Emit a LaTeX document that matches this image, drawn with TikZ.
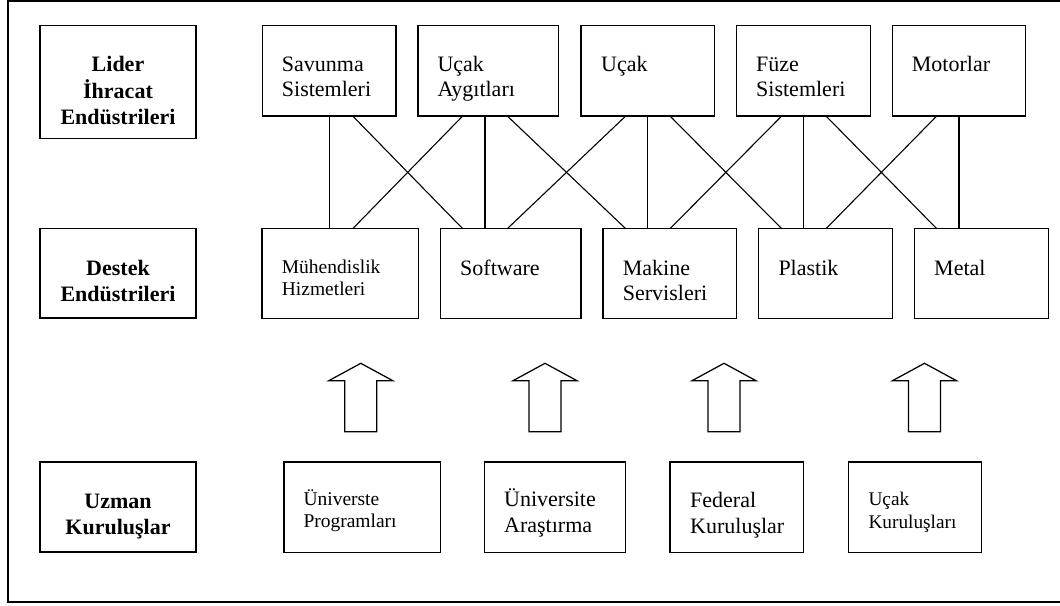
\documentclass[tikz,border=0pt]{standalone}
\usepackage{fontspec}
\setmainfont{Liberation Serif}
\newcommand{\lns}[1]{\begin{tabular}[t]{@{}l@{}}#1\end{tabular}}
\newcommand{\clns}[1]{\begin{tabular}[t]{@{}c@{}}#1\end{tabular}}
\tikzset{
  bx/.style={draw, line width=1.25pt, inner sep=0pt, outer sep=0pt},
  big/.style={anchor=base west, inner sep=0pt, font=\fontsize{22}{25}\selectfont},
  bigB/.style={anchor=base west, inner sep=0pt, font=\fontsize{22}{26}\selectfont},
  small/.style={anchor=base west, inner sep=0pt, font=\fontsize{19.5}{22}\selectfont},
  head/.style={anchor=base, inner sep=0pt, font=\fontsize{22}{26}\selectfont\bfseries},
  link/.style={line width=1.1pt},
  uparrow/.pic={\draw[line width=1.25pt, line join=miter] (0,0) -- (32,17.4) -- (16,17.4) -- (16,68.4) -- (-16,68.4) -- (-16,17.4) -- (-32,17.4) -- cycle;}
}
\begin{document}
\begin{tikzpicture}[x=1pt,y=-1pt]
\useasboundingbox (0,0) rectangle (1060,605);
\clip (0,0) rectangle (1060,605);
\fill[white] (0,0) rectangle (1060,605);
% frame (right side lies outside the picture)
\draw[line width=2pt] (1070,1) -- (7.8,1) -- (7.8,602) -- (1070,602);

% left column
\node[bx, minimum width=156pt, minimum height=113pt] (lider) at (118,82.2) {};
\node[bx, minimum width=156pt, minimum height=89.3pt] (destek) at (118,273.35) {};
\node[bx, minimum width=156pt, minimum height=90pt] (uzman) at (118,507) {};
\node[head] (tlider) at (118,71.7) {\clns{Lider\\İhracat\\Endüstrileri}};
\node[head] (tdestek) at (118,275) {\clns{Destek\\Endüstrileri}};
\node[head] (tuzman) at (118,508.3) {\clns{Uzman\\Kuruluşlar}};

% top row
\node[bx, minimum width=133.3pt, minimum height=90.3pt] (sav) at (329.35,70.85) {};
\node[bx, minimum width=140.7pt, minimum height=90.3pt] (ayg) at (488.35,70.85) {};
\node[bx, minimum width=133.3pt, minimum height=90.3pt] (ucak) at (647.65,70.85) {};
\node[bx, minimum width=134pt, minimum height=90.3pt] (fuze) at (803.7,70.85) {};
\node[bx, minimum width=133pt, minimum height=90.3pt] (mot) at (958.8,70.85) {};
\node[big] (tsav) at (281.7,71.7) {\lns{Savunma\\Sistemleri}};
\node[big] (tayg) at (437.3,71.7) {\lns{Uçak\\Aygıtları}};
\node[big] (tucak) at (601,71.7) {\lns{Uçak}};
\node[big] (tfuze) at (756,71.7) {\lns{Füze\\Sistemleri}};
\node[big] (tmot) at (911.7,71.7) {\lns{Motorlar}};

% middle row
\node[bx, minimum width=156.7pt, minimum height=89.8pt] (muh) at (340.35,273.6) {};
\node[bx, minimum width=140.3pt, minimum height=89.8pt] (sw) at (510.85,273.6) {};
\node[bx, minimum width=133.7pt, minimum height=89.8pt] (mak) at (669.85,273.6) {};
\node[bx, minimum width=133.6pt, minimum height=89.8pt] (pla) at (825.5,273.6) {};
\node[bx, minimum width=134pt, minimum height=89.8pt] (met) at (981.3,273.6) {};
\node[small] (tmuh) at (281.7,273.3) {\lns{Mühendislik\\Hizmetleri}};
\node[big] (tsw) at (460,275) {\lns{Software}};
\node[big] (tmak) at (622.7,275) {\lns{Makine\\Servisleri}};
\node[big] (tpla) at (778.3,275) {\lns{Plastik}};
\node[big] (tmet) at (934,275) {\lns{Metal}};

% bottom row
\node[bx, minimum width=156.7pt, minimum height=90.3pt] (up) at (362.35,507.15) {};
\node[bx, minimum width=140.6pt, minimum height=90.3pt] (ua) at (555,507.15) {};
\node[bx, minimum width=133.3pt, minimum height=90.3pt] (fed) at (736.65,507.15) {};
\node[bx, minimum width=133.4pt, minimum height=90.3pt] (uk) at (915,507.15) {};
\node[small, font=\fontsize{19.5}{22.7}\selectfont] (tup) at (303.3,505) {\lns{Üniverste\\Programları}};
\node[bigB] (tua) at (504,506.7) {\lns{Üniversite\\Araştırma}};
\node[bigB] (tfed) at (690,507.3) {\lns{Federal\\Kuruluşlar}};
\node[small, font=\fontsize{19.3}{23.3}\selectfont] (tuk) at (868.3,505) {\lns{Uçak\\Kuruluşları}};

% connector x positions
\coordinate (v1) at (329.3,0);
\coordinate (v2) at (485,0);
\coordinate (v3) at (647.7,0);
\coordinate (v4) at (803.3,0);
\coordinate (v5) at (959,0);
\coordinate (a1) at (352.7,0);
\coordinate (a2) at (462.7,0);
\coordinate (a3) at (507.3,0);
\coordinate (a4) at (625.7,0);
\coordinate (a5) at (670,0);
\coordinate (a6) at (781.7,0);
\coordinate (a7) at (826,0);
\coordinate (a8) at (936.7,0);

\draw[link] (v1 |- sav.south) -- (v1 |- muh.north);
\draw[link] (a1 |- sav.south) -- (a2 |- sw.north);
\draw[link] (a2 |- ayg.south) -- (a1 |- muh.north);
\draw[link] (v2 |- ayg.south) -- (v2 |- sw.north);
\draw[link] (a3 |- ayg.south) -- (a4 |- mak.north);
\draw[link] (a4 |- ucak.south) -- (a3 |- sw.north);
\draw[link] (v3 |- ucak.south) -- (v3 |- mak.north);
\draw[link] (a5 |- ucak.south) -- (a6 |- pla.north);
\draw[link] (a6 |- fuze.south) -- (a5 |- mak.north);
\draw[link] (v4 |- fuze.south) -- (v4 |- pla.north);
\draw[link] (a7 |- fuze.south) -- (a8 |- met.north);
\draw[link] (a8 |- mot.south) -- (a7 |- pla.north);
\draw[link] (v5 |- mot.south) -- (v5 |- met.north);

% block arrows
\pic at (360.8,363.3) {uparrow};
\pic at (545,363.3) {uparrow};
\pic at (724,363.3) {uparrow};
\pic at (924.5,363.3) {uparrow};
\end{tikzpicture}
\end{document}
